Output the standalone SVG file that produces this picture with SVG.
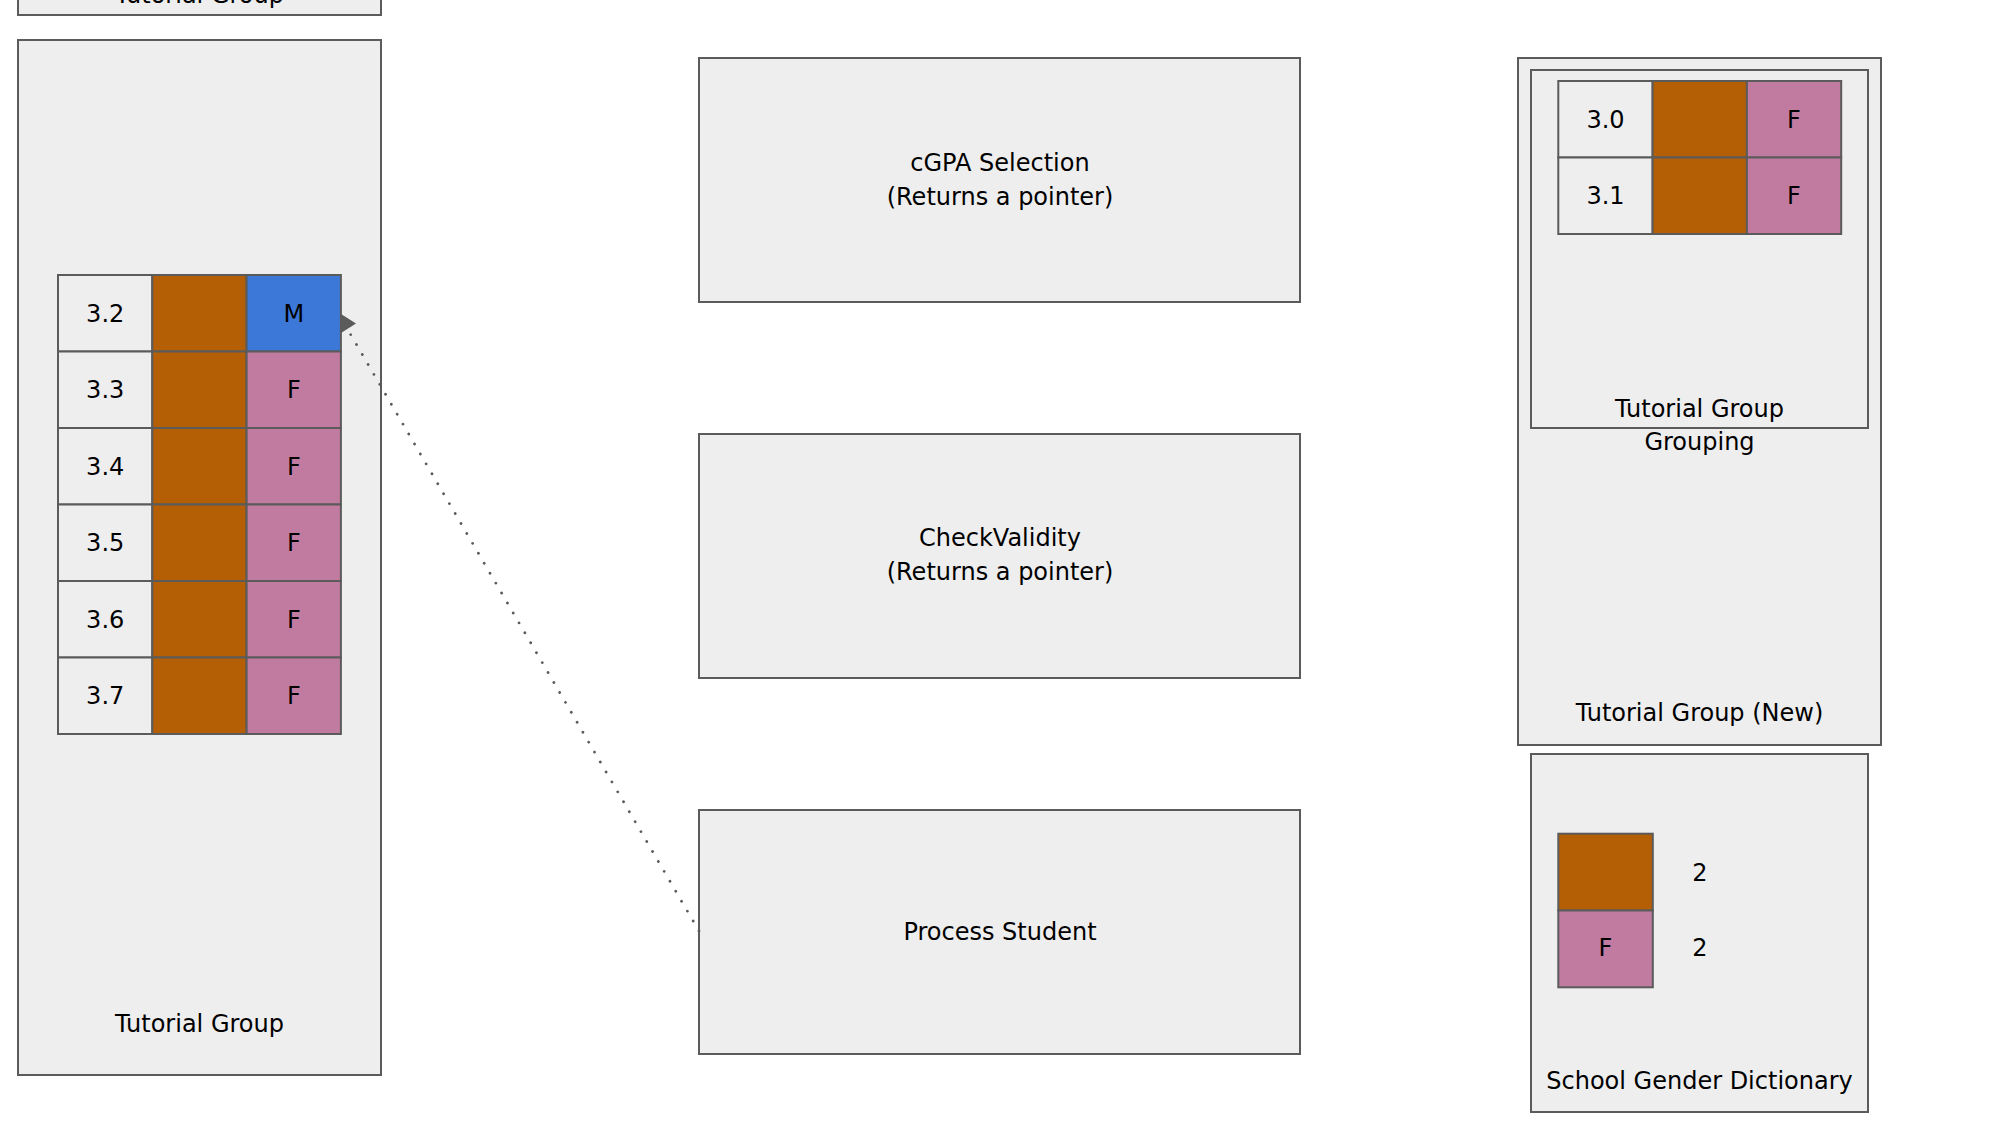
<svg xmlns="http://www.w3.org/2000/svg" width="2000" height="1125" viewBox="0 0 2000 1125">
<style>
.box{fill:#eeeeee;stroke:#5b5b5b;stroke-width:2}
.cell{stroke:#5b5b5b;stroke-width:2}
.w{fill:#eeeeee}
.o{fill:#b45f06}
.p{fill:#c27ba0}
.b{fill:#3c78d8}
text{font-family:"DejaVu Sans","Liberation Sans",sans-serif;font-size:24px;fill:#000;text-anchor:middle}
.conn{fill:none;stroke:#5b5b5b;stroke-width:2.8;stroke-linecap:round;stroke-dasharray:0.01 11.5}
</style>
<rect width="2000" height="1125" fill="#ffffff"/>

<g id="tutorial-group-top">
<rect class="box" x="18" y="-300" width="363" height="315"/>
<text x="199.5" y="3">Tutorial Group</text>
</g>

<g id="tutorial-group">
<rect class="box" x="18" y="40" width="363" height="1035"/>
<text x="199.5" y="1032">Tutorial Group</text>
<g id="tg-row-1">
<rect class="cell w" x="58" y="275" width="94.3" height="76.5"/>
<rect class="cell o" x="152.3" y="275" width="94.3" height="76.5"/>
<rect class="cell b" x="246.6" y="275" width="94.3" height="76.5"/>
<text x="105.2" y="321.5">3.2</text><text x="293.8" y="321.5">M</text>
</g>
<g id="tg-row-2">
<rect class="cell w" x="58" y="351.5" width="94.3" height="76.5"/>
<rect class="cell o" x="152.3" y="351.5" width="94.3" height="76.5"/>
<rect class="cell p" x="246.6" y="351.5" width="94.3" height="76.5"/>
<text x="105.2" y="398">3.3</text><text x="293.8" y="398">F</text>
</g>
<g id="tg-row-3">
<rect class="cell w" x="58" y="428" width="94.3" height="76.5"/>
<rect class="cell o" x="152.3" y="428" width="94.3" height="76.5"/>
<rect class="cell p" x="246.6" y="428" width="94.3" height="76.5"/>
<text x="105.2" y="474.5">3.4</text><text x="293.8" y="474.5">F</text>
</g>
<g id="tg-row-4">
<rect class="cell w" x="58" y="504.5" width="94.3" height="76.5"/>
<rect class="cell o" x="152.3" y="504.5" width="94.3" height="76.5"/>
<rect class="cell p" x="246.6" y="504.5" width="94.3" height="76.5"/>
<text x="105.2" y="551">3.5</text><text x="293.8" y="551">F</text>
</g>
<g id="tg-row-5">
<rect class="cell w" x="58" y="581" width="94.3" height="76.5"/>
<rect class="cell o" x="152.3" y="581" width="94.3" height="76.5"/>
<rect class="cell p" x="246.6" y="581" width="94.3" height="76.5"/>
<text x="105.2" y="627.5">3.6</text><text x="293.8" y="627.5">F</text>
</g>
<g id="tg-row-6">
<rect class="cell w" x="58" y="657.5" width="94.3" height="76.5"/>
<rect class="cell o" x="152.3" y="657.5" width="94.3" height="76.5"/>
<rect class="cell p" x="246.6" y="657.5" width="94.3" height="76.5"/>
<text x="105.2" y="704">3.7</text><text x="293.8" y="704">F</text>
</g>
</g>

<g id="cgpa-selection">
<rect class="box" x="699" y="58" width="601" height="244"/>
<text x="1000" y="171">cGPA Selection</text>
<text x="1000" y="204.5">(Returns a pointer)</text>
</g>

<g id="check-validity">
<rect class="box" x="699" y="434" width="601" height="244"/>
<text x="1000" y="546">CheckValidity</text>
<text x="1000" y="579.5">(Returns a pointer)</text>
</g>

<g id="process-student">
<rect class="box" x="699" y="810" width="601" height="244"/>
<text x="1000" y="940">Process Student</text>
</g>

<g id="tutorial-group-new">
<rect class="box" x="1518" y="58" width="363" height="687"/>
<text x="1699.5" y="720.5">Tutorial Group (New)</text>
<g id="tutorial-group-grouping">
<rect class="box" x="1531" y="70" width="337" height="358"/>
<rect class="cell w" x="1558.3" y="81" width="94.3" height="76.5"/>
<rect class="cell o" x="1652.6" y="81" width="94.3" height="76.5"/>
<rect class="cell p" x="1746.9" y="81" width="94.3" height="76.5"/>
<text x="1605.5" y="127.5">3.0</text><text x="1794" y="127.5">F</text>
<rect class="cell w" x="1558.3" y="157.5" width="94.3" height="76.5"/>
<rect class="cell o" x="1652.6" y="157.5" width="94.3" height="76.5"/>
<rect class="cell p" x="1746.9" y="157.5" width="94.3" height="76.5"/>
<text x="1605.5" y="204">3.1</text><text x="1794" y="204">F</text>
<text x="1699.5" y="416.5">Tutorial Group</text>
<text x="1699.5" y="450">Grouping</text>
</g>
</g>

<g id="school-gender-dictionary">
<rect class="box" x="1531" y="754" width="337" height="358"/>
<rect class="cell o" x="1558.3" y="833.7" width="94.5" height="76.8"/>
<rect class="cell p" x="1558.3" y="910.5" width="94.5" height="76.8"/>
<text x="1605.5" y="956">F</text>
<text x="1700" y="881">2</text>
<text x="1700" y="956">2</text>
<text x="1699.5" y="1089">School Gender Dictionary</text>
</g>

<g id="connectors">
<line class="conn" x1="699" y1="931" x2="348" y2="330"/>
<polygon points="341,314 356,323.5 341,333" fill="#5b5b5b"/>
</g>
</svg>
